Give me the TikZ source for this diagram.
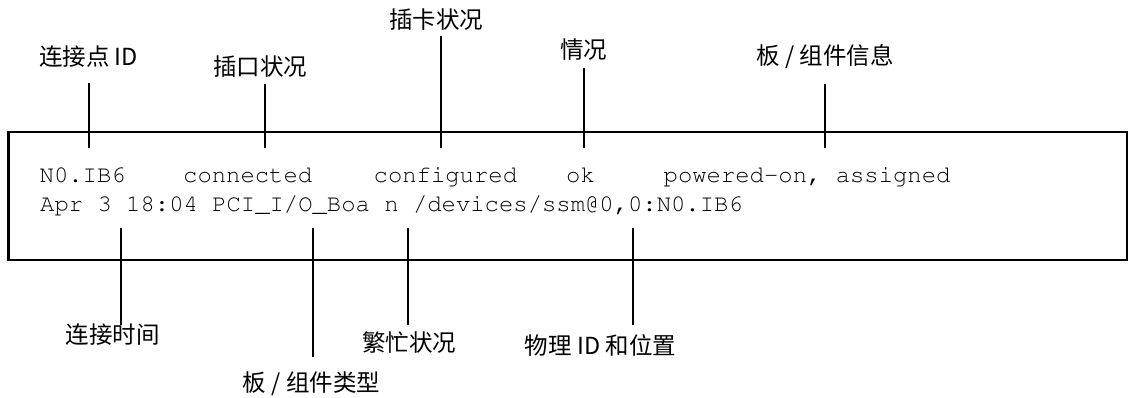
\documentclass[tikz,border=0pt]{standalone}
\usepackage[T1]{fontenc}
\usepackage{fontspec}
\newfontfamily\cjk{Noto Sans CJK SC}
% Courier for the listing lines
\newcommand\listingfont{\fontencoding{T1}\fontfamily{pcr}\fontseries{m}\fontshape{n}\fontsize{23.9}{28}\selectfont}
\begin{document}
\begin{tikzpicture}[x=1pt,y=-1pt,
  lab/.style={font=\cjk\fontsize{23.5}{26}\selectfont, inner sep=0pt, anchor=center},
  mono/.style={font=\listingfont, inner sep=0pt, anchor=base west},
  pointer/.style={line width=2.5pt},
  frame/.style={draw, line width=2.7pt, inner sep=0pt}]
\useasboundingbox (0,0) rectangle (1130,397);

% output frame
\node[frame, minimum width=1118.5pt, minimum height=128pt] (panel) at (567.75,196) {};

% first listing line
\node[mono] (apid)   at (39.5,182) {N0.IB6};
\node[mono] (recep)  at (183,182)  {connected};
\node[mono] (occup)  at (373.5,182) {configured};
\node[mono] (cond)   at (566,182)  {ok};
\node[mono] (info)   at (663.5,182) {powered-on, assigned};
% second listing line
\node[mono] (detail) at (40,211.5) {Apr 3 18:04 PCI\_I/O\_Boa n /devices/ssm@0,0:N0.IB6};

% labels above the frame
\node[lab] (lapid)  at (88.5,57) {连接点 ID};
\node[lab] (lrecep) at (260,67)  {插口状况};
\node[lab] (loccup) at (436,20)  {插卡状况};
\node[lab] (lcond)  at (583.5,50) {情况};
\node[lab] (linfo)  at (825,57)  {板 / 组件信息};

% labels below the frame
\node[lab] (ltime)  at (112.5,335) {连接时间};
\node[lab] (ltype)  at (311.5,384) {板 / 组件类型};
\node[lab] (lbusy)  at (409,343)   {繁忙状况};
\node[lab] (lphys)  at (600.5,345) {物理 ID 和位置};

% pointer ends
\coordinate (a1) at (89,83);   \coordinate (b1) at (89,148);
\coordinate (a2) at (265,84);  \coordinate (b2) at (265,148);
\coordinate (a3) at (441,36);  \coordinate (b3) at (441,148);
\coordinate (a4) at (584,68);  \coordinate (b4) at (584,148);
\coordinate (a5) at (825,84);  \coordinate (b5) at (825,148);
\coordinate (a6) at (121,228); \coordinate (b6) at (121,325);
\coordinate (a7) at (313,228); \coordinate (b7) at (313,357);
\coordinate (a8) at (408,228); \coordinate (b8) at (408,325);
\coordinate (a9) at (633,228); \coordinate (b9) at (633,325);

\foreach \i in {1,...,9} \draw[pointer] (a\i) -- (b\i);
\end{tikzpicture}
\end{document}
